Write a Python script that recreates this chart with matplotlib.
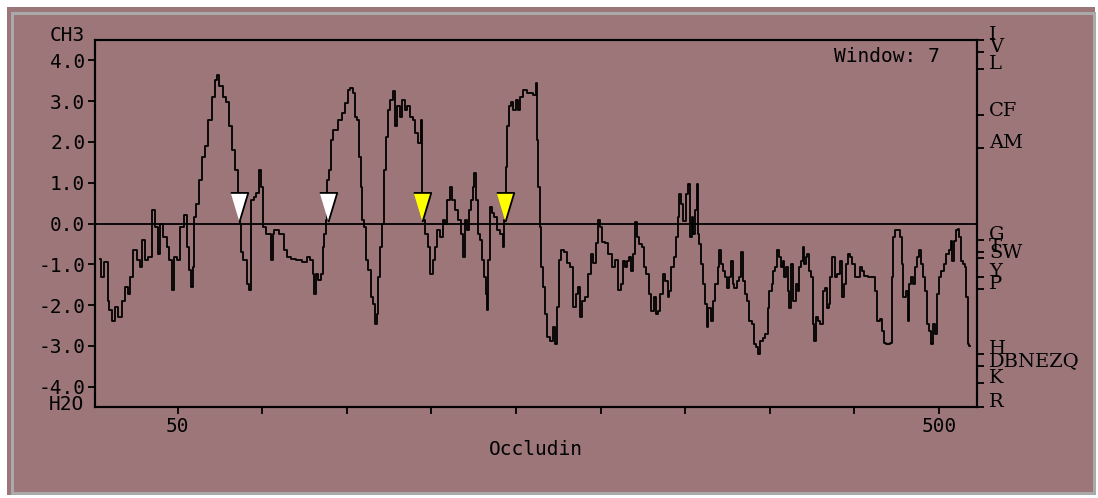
import matplotlib.pyplot as plt
import matplotlib.transforms as mtransforms
from matplotlib.patches import Rectangle

# hydropathy trace of occludin (residue, score)
residues = [
    4.2, 5.2, 8.1, 9.1, 10.1, 12.1, 14.0, 16.0, 18.0, 20.0, 20.9, 22.9, 24.9, 26.9, 28.2,
    29.8, 31.8, 33.7, 35.7, 37.7, 38.7, 40.6, 42.6, 44.6, 45.6, 47.5, 48.5, 50.5, 52.9,
    54.8, 56.4, 57.4, 58.4, 59.4, 60.3, 61.9, 63.9, 65.3, 67.2, 69.2, 71.2, 72.6, 73.7,
    75.7, 77.7, 79.6, 81.6, 83.0, 85.0, 86.3, 87.3, 87.9, 89.9, 91.9, 92.9, 94.2, 95.8,
    97.4, 98.8, 99.7, 101.7, 102.7,
    104.7, 105.7, 106.6, 107.6, 112.5, 113.5, 115.5, 118.5, 121.4, 125.4, 127.3, 129.3,
    130.3, 130.9, 132.3, 133.8, 135.2, 136.2, 137.2, 138.2, 138.8, 140.1, 141.1, 143.1,
    146.4, 148.4, 150.0, 151.4, 153.0, 153.9, 155.5, 156.9, 157.9, 158.8, 159.8, 160.8,
    162.2, 163.4, 164.8, 166.1, 167.3, 168.1, 168.7, 170.1, 171.6, 172.6, 173.6, 175.0,
    176.6, 177.6, 179.1, 180.5, 182.1, 183.5, 185.0, 186.4, 188.4, 189.4, 191.4, 193.3,
    194.3, 194.9, 195.7, 197.3, 198.6, 200.2, 201.2, 202.8, 204.2, 206.1, 207.5,
    208.1, 210.5, 211.6, 213.0, 215.0, 217.0, 218.3, 219.3, 220.3, 221.5, 222.9, 223.9,
    224.8, 225.8, 226.8, 227.8, 229.2, 230.8, 231.7, 232.7, 233.3, 234.1, 234.7, 236.7,
    237.6, 239.6, 241.6, 242.6, 243.6, 244.2, 245.1, 246.1, 247.5, 249.1, 250.5, 251.8,
    253.4, 255.4, 257.3, 259.3, 260.9, 262.3, 262.7, 263.7, 264.6, 265.6, 266.6, 267.6,
    269.2, 271.1, 272.7, 273.7, 274.7, 276.1, 277.4, 279.4, 281.0, 283.0, 284.5, 285.9,
    287.3, 288.5, 289.9, 291.8, 293.4, 294.8, 296.8, 297.9, 299.1, 300.3, 301.7, 303.7,
    305.6, 307.6, 309.6, 311.5,
    312.5, 313.9, 315.0, 315.8, 317.4, 319.0, 319.8, 321.0, 322.3, 323.7, 324.9, 326.3,
    327.7, 329.2, 330.6, 332.2, 333.6, 334.7, 336.1, 337.5, 339.1, 340.1, 341.1, 342.6,
    344.0, 345.0, 346.0, 347.0, 347.9, 349.3, 350.3, 351.3, 352.5, 353.3, 354.4, 355.2,
    356.2, 357.4, 358.0, 358.8, 359.8, 361.1, 362.3, 363.1, 364.3, 365.7, 367.1, 368.6,
    370.0, 370.6, 371.6, 373.0, 374.1, 375.5, 376.5, 377.5, 378.5, 379.5, 381.4, 382.8,
    383.8, 384.8, 385.8, 387.3, 388.7, 389.9, 391.3, 392.7, 393.8, 395.2, 396.6, 398.2,
    399.2, 400.5, 401.7, 402.5, 403.7, 405.1, 406.1, 407.1, 408.0, 409.2, 410.0, 411.0,
    412.0, 413.0,
    415.0, 416.0, 417.0, 418.0, 418.9, 419.9, 420.9, 421.8, 422.8, 423.8, 424.8, 425.8,
    426.8, 427.8, 429.1, 430.7, 432.3, 433.3, 434.3, 435.2, 436.2, 437.0, 438.2, 439.2,
    440.6, 442.1, 443.1, 444.5, 445.9, 446.9, 448.1, 449.4, 450.8, 452.4, 454.0, 455.3,
    456.7, 459.3, 461.8, 462.6, 464.2, 465.8, 467.2, 467.8, 470.1, 471.7, 472.5, 473.5,
    474.6, 476.4, 477.6, 478.4, 479.6, 481.0, 482.0, 483.0, 484.0, 485.3, 486.3, 487.5,
    488.8, 489.8, 490.8, 492.4, 493.8, 494.7, 495.7, 496.7, 498.1, 499.3, 500.6, 502.2,
    503.6, 505.2, 506.6, 507.5, 508.5, 509.5, 510.7, 511.5, 512.5, 513.5, 514.8, 515.8,
    516.6, 517.4, 518.4,
]
scores = [
    -0.86, -1.31, -0.94, -1.89, -2.13, -2.38, -2.05, -2.30, -1.89, -1.56, -1.72, -1.31,
    -0.66, -0.90, -1.07, -0.41, -0.90, -0.82, 0.33, -0.08, -0.74, 0.00, -0.33, -0.57,
    -0.90, -1.64, -0.82, -0.90, -0.08, 0.20, -0.57, -1.15, -1.56, -1.07, 0.16, 0.49,
    1.07, 1.64, 1.89, 2.54, 3.11, 3.52, 3.65, 3.36, 3.11, 2.99, 2.38, 1.80, 1.31, 0.74,
    0.00, -0.70, -0.90, -1.48, -1.64, 0.57, 0.66, 0.74, 1.31, 0.90, -0.08, -0.25,
    -0.25, -0.90, -0.25, -0.16, -0.25, -0.66, -0.82, -0.86, -0.90, -0.94, -0.82, -0.90,
    -1.23, -1.72, -1.23, -1.39, -1.23, -0.57, -0.25, 0.08, 1.07, 1.31, 2.05, 2.30,
    2.54, 2.70, 2.95, 3.28, 3.32, 3.20, 2.62, 2.54, 1.64, 0.90, 0.08, -0.08,
    -0.90, -1.15, -1.80, -1.97, -2.46, -2.21, -1.31, -0.57, 0.00, 1.31, 2.13, 2.79,
    3.03, 3.24, 2.38, 2.87, 2.62, 3.03, 2.79, 2.87, 2.62, 2.54, 2.21, 1.97,
    2.54, 0.74, 0.08, -0.25, -0.57, -1.23, -0.90, -0.57, -0.16, -0.33, 0.08,
    0.00, 0.57, 0.90, 0.57, 0.33, 0.08, -0.25, -0.82, 0.08, -0.16, 0.33, 0.57,
    0.90, 1.23, 0.57, -0.25, -0.41, -0.90, -1.31, -1.72, -2.13, -0.90, 0.41, 0.25,
    0.16, -0.16, -0.25, -0.57, 0.08, 1.39, 2.38, 2.87, 2.99, 2.79, 3.03, 2.79,
    3.11, 3.28, 3.20, 3.20, 3.16, 3.44, 2.05, 0.90, -0.08, -1.07, -1.56, -2.21,
    -2.79, -2.87, -2.54, -2.95, -2.05, -0.90, -0.66, -0.70, -0.98, -1.07, -2.05, -1.72,
    -1.56, -2.30, -1.89, -1.80, -1.23, -0.74, -0.98, -0.49, 0.08, -0.08, -0.45, -0.49,
    -0.74, -1.07, -0.90, -1.64,
    -1.48, -0.91, -1.07, -0.91, -0.83, -1.16, -0.75, 0.03, -0.34, -0.50, -0.58, -1.07,
    -1.24, -1.73, -2.14, -1.81, -2.22, -2.14, -1.73, -1.24, -1.40, -1.81, -1.65, -1.07,
    -0.83, -0.34, 0.16, 0.73, 0.48, 0.07, 0.07, 0.73, 0.98, -0.34, 0.16, -0.25,
    0.32, 0.98, -0.25, -0.50, -0.99, -1.48, -1.98, -2.55, -2.06, -2.39, -1.89, -1.48,
    -1.07, -0.66, -0.99, -1.16, -1.32, -1.57, -1.32, -0.91, -1.48, -1.57, -1.40, -1.32,
    -0.70, -1.40, -1.73, -1.89, -2.39, -2.47, -2.96, -3.04, -3.20, -2.88, -2.80, -2.71,
    -2.06, -1.65, -1.48, -1.16, -1.07, -0.66, -0.83, -1.07, -0.91, -1.32, -1.07, -1.65,
    -2.06, -0.99,
    -1.89, -1.48, -1.65, -1.07, -0.91, -0.58, -0.99, -0.83, -0.75, -1.16, -1.32, -2.47,
    -2.88, -2.30, -2.39, -2.47, -1.65, -1.57, -2.06, -1.98, -1.32, -0.83, -0.83, -1.32,
    -1.24, -0.91, -1.81, -1.48, -0.99, -0.75, -0.83, -0.99, -1.32, -1.32, -1.07, -1.16,
    -1.28, -1.32, -1.32, -1.65, -2.39, -2.34, -2.63, -2.92, -2.96, -2.92, -1.32, -0.34,
    -0.17, -0.17, -0.34, -0.99, -1.81, -1.65, -2.39, -1.48, -1.32, -1.48, -1.07, -0.83,
    -0.66, -0.99, -1.32, -1.65, -2.47, -2.63, -2.96, -2.47, -2.71, -1.73, -1.32, -1.16,
    -0.99, -0.75, -0.66, -0.42, -0.91, -0.42, -0.17, -0.13, -0.34, -0.91, -0.99, -1.07,
    -1.81, -2.96, -3.00,
]

# arrow heads above the zero line
marker_res = [86.3, 138.9, 194.3, 243.6]
marker_colors = ['white', 'white', 'yellow', 'yellow']
marker_y = 0.40

left_ticks = [4.0, 3.0, 2.0, 1.0, 0.0, -1.0, -2.0, -3.0, -4.0]
x_ticks = [50, 100, 150, 200, 250, 300, 350, 400, 450, 500]
x_labels = ['50', '', '', '', '', '', '', '', '', '500']

# Kyte-Doolittle values shown on the right hand side
aa_labels = ['I', 'V', 'L', 'CF', 'AM', 'G', 'T', 'SW', 'Y', 'P', 'H', 'DBNEZQ', 'K', 'R']
aa_values = [4.5, 4.2, 3.8, 2.65, 1.85, -0.4, -0.7, -0.85, -1.3, -1.6, -3.2, -3.5, -3.9, -4.5]

bg = '#9c7679'
W, H = 1098, 498

fig = plt.figure(figsize=(W / 100, H / 100), dpi=100, facecolor='white')
fig.patches.append(Rectangle((7 / W, 3 / H), 1088 / W, 488 / H, transform=fig.transFigure,
                             facecolor=bg, edgecolor='none', zorder=-3))
fig.patches.append(Rectangle((11.5 / W, 5.5 / H), 1082 / W, 479 / H, transform=fig.transFigure,
                             facecolor='none', edgecolor='#aaaaaa', lw=2.2, zorder=-2))

ax = fig.add_axes([95 / W, (H - 407) / H, 882 / W, 367 / H])
ax.set_facecolor(bg)
ax.set_xlim(1.2, 522.5)
ax.set_ylim(-4.5, 4.5)

ax.plot(residues, scores, color='black', lw=1.3, drawstyle='steps-mid', zorder=3)
ax.axhline(0, color='black', lw=1.3, zorder=2)

mk = [(-0.6, 1), (0.6, 1), (0, -1)]
for xr, c in zip(marker_res, marker_colors):
    ax.plot([xr], [marker_y], linestyle='none', marker=mk, markersize=21,
            markerfacecolor=c, markeredgecolor='black', markeredgewidth=1.3, zorder=4)

mono = 'DejaVu Sans Mono'
ax.set_yticks(left_ticks)
ax.set_yticklabels(['%.1f' % v for v in left_ticks], family=mono, fontsize=14)
ax.set_xticks(x_ticks)
ax.set_xticklabels(x_labels, family=mono, fontsize=14)
ax.tick_params(direction='out', length=5, width=1.3, colors='black', pad=2)
ax.set_xlabel('Occludin', family=mono, fontsize=14, labelpad=3)
for s in ax.spines.values():
    s.set_linewidth(1.5)

ax.text(-0.012, 4.62, 'CH3', transform=mtransforms.blended_transform_factory(ax.transAxes, ax.transData),
        ha='right', va='center', family=mono, fontsize=14)
ax.text(-0.012, -4.45, 'H2O', transform=mtransforms.blended_transform_factory(ax.transAxes, ax.transData),
        ha='right', va='center', family=mono, fontsize=14)
ax.text(0.958, 0.955, 'Window: 7', transform=ax.transAxes, ha='right', va='center',
        family=mono, fontsize=14)

# right hand amino acid scale
ax2 = ax.twinx()
ax2.set_ylim(ax.get_ylim())
ax2.set_yticks(aa_values)
ax2.set_yticklabels([''] * len(aa_values))
ax2.tick_params(direction='out', length=5, width=1.3)
for s in ax2.spines.values():
    s.set_linewidth(1.5)
tr = mtransforms.blended_transform_factory(ax.transAxes, ax.transData)
for lab, v in zip(aa_labels, aa_values):
    ax.text(1.0136, v + 0.12, lab, transform=tr, ha='left', va='center',
            family='DejaVu Serif', fontsize=14, clip_on=False)

fig.savefig('out.png', dpi=100, facecolor='white')
